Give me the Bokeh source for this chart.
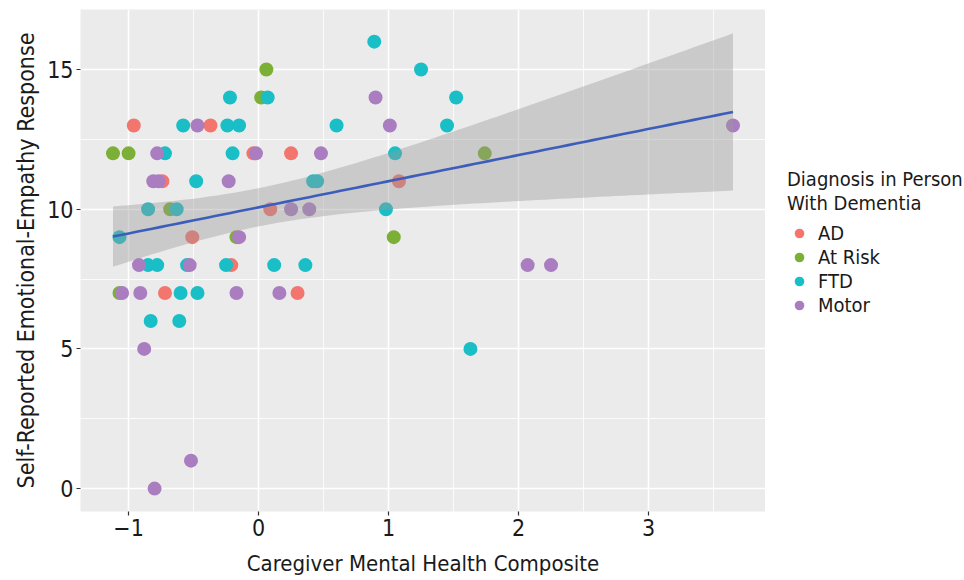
import numpy as np
from bokeh.plotting import figure
from bokeh.layouts import row
from bokeh.models import (ColumnDataSource, FixedTicker, Legend, LegendItem, Range1d)
from bokeh.embed import file_html
from bokeh.resources import INLINE

# ---- data ----
ad_x = [-0.96, -0.37, -0.04, 0.25, -0.74, 1.08, 0.09, -0.51, -0.21, -0.72, 0.30]
ad_y = [13, 13, 12, 12, 11, 11, 10, 9, 8, 7, 7]

risk_x = [-1.12, -1.00, 0.06, 0.02, 1.74, -0.68, -0.17, 1.04, -1.07]
risk_y = [12, 12, 15, 14, 12, 10, 9, 9, 7]

ftd_x = [0.89, 1.25, -0.22, 0.07, 1.52, -0.58, -0.24, -0.15, 0.60, 1.45,
         -0.72, -0.20, 1.05, -0.48, 0.42, 0.45, -0.85, -0.63, 0.98, -1.07,
         -0.85, -0.78, -0.55, -0.25, 0.12, 0.36, -0.60, -0.47, -0.83, -0.61, 1.63]
ftd_y = [16, 15, 14, 14, 14, 13, 13, 13, 13, 13,
         12, 12, 12, 11, 11, 11, 10, 10, 10, 9,
         8, 8, 8, 8, 8, 8, 7, 7, 6, 6, 5]

motor_x = [0.90, -0.47, 1.01, 3.65, -0.78, -0.02, 0.48, -0.81, -0.77, -0.23,
           0.25, 0.39, -0.15, -0.92, -0.53, 2.07, 2.25, -1.05, -0.91, -0.17,
           0.16, -0.88, -0.52, -0.80]
motor_y = [14, 13, 13, 13, 12, 12, 12, 11, 11, 11,
           10, 10, 9, 8, 8, 8, 8, 7, 7, 7,
           7, 5, 1, 0]

groups = ["AD", "At Risk", "FTD", "Motor"]
colors = ["#F2766D", "#7CAF35", "#19BEC6", "#AA7DC0"]
xs_all = [ad_x, risk_x, ftd_x, motor_x]
ys_all = [ad_y, risk_y, ftd_y, motor_y]

x_ticks = [-1, 0, 1, 2, 3]
x_tick_labels = ["\u22121", "0", "1", "2", "3"]
y_ticks = [0, 5, 10, 15]
legend_title = "Diagnosis in Person\nWith Dementia"

FONT = "'DejaVu Sans Condensed', 'Liberation Sans Narrow', sans-serif"
TXT = "#1a1a1a"
H = 580

p = figure(width=765, height=H, output_backend="svg", toolbar_location=None,
           x_range=Range1d(-1.37, 3.90), y_range=Range1d(-0.82, 17.15),
           min_border_left=80, min_border_right=0, min_border_top=9,
           min_border_bottom=69, background_fill_color="#EBEBEB",
           border_fill_color="white", outline_line_color=None)

# grid
p.xaxis.ticker = FixedTicker(ticks=x_ticks, minor_ticks=[-0.5, 0.5, 1.5, 2.5, 3.5])
p.yaxis.ticker = FixedTicker(ticks=y_ticks, minor_ticks=[2.5, 7.5, 12.5])
p.xaxis.major_label_overrides = {t: l for t, l in zip(x_ticks, x_tick_labels)}
for g in (p.xgrid, p.ygrid):
    g.grid_line_color = "white"
    g.grid_line_width = 1.6
    g.minor_grid_line_color = "white"
    g.minor_grid_line_width = 0.8

for ax in (p.xaxis, p.yaxis):
    ax.axis_line_color = None
    ax.major_tick_line_color = "#333333"
    ax.major_tick_line_width = 1.2
    ax.major_tick_out = 4
    ax.major_tick_in = 0
    ax.minor_tick_line_color = None
    ax.major_label_text_font = FONT
    ax.major_label_text_font_size = "23px"
    ax.major_label_text_color = TXT
    ax.axis_label_text_font = FONT
    ax.axis_label_text_font_style = "normal"
    ax.axis_label_text_color = TXT
p.xaxis.axis_label_text_font_size = "22px"
p.yaxis.axis_label_text_font_size = "23px"

p.xaxis.axis_label = "Caregiver Mental Health Composite"
p.yaxis.axis_label = "Self-Reported Emotional-Empathy Response"
p.xaxis.major_label_standoff = 3
p.yaxis.major_label_standoff = 3
p.xaxis.axis_label_standoff = 12
p.yaxis.axis_label_standoff = 5

# points
for gname, col, xs, ys in zip(groups, colors, xs_all, ys_all):
    src = ColumnDataSource(dict(x=xs, y=ys))
    p.scatter("x", "y", source=src, size=14, fill_color=col, line_color=None)

# linear fit with 95% confidence band (geom_smooth(method="lm"))
all_x = np.concatenate([np.array(v, float) for v in xs_all])
all_y = np.concatenate([np.array(v, float) for v in ys_all])
n = len(all_x)
b1, b0 = np.polyfit(all_x, all_y, 1)
resid = all_y - (b0 + b1 * all_x)
s = np.sqrt(np.sum(resid ** 2) / (n - 2))
xm = all_x.mean()
sxx = np.sum((all_x - xm) ** 2)
grid_x = np.linspace(all_x.min(), all_x.max(), 80)
fit = b0 + b1 * grid_x
se = s * np.sqrt(1.0 / n + (grid_x - xm) ** 2 / sxx)
tval = 1.993
upper = fit + tval * se
lower = fit - tval * se

p.varea(x=grid_x, y1=lower, y2=upper, fill_color="#999999", fill_alpha=0.4)
p.line(grid_x, fit, line_color="#3D5DBB", line_width=2.6)

# legend panel (separate, axis-less figure to the right)
LW = 199
q = figure(width=LW, height=H, output_backend="svg", toolbar_location=None,
           x_range=Range1d(0, 1), y_range=Range1d(0, 1),
           x_axis_location=None, y_axis_location=None,
           min_border=0, outline_line_color=None,
           background_fill_color="white", border_fill_color="white")
q.grid.visible = False

nan = float("nan")
key_renderers = []
for gname, col in zip(groups, colors):
    key_renderers.append(q.scatter(x=[nan], y=[nan], size=14, fill_color=col,
                                   line_color=None))

items = [LegendItem(label=g, renderers=[r]) for g, r in zip(groups, key_renderers)]
legend = Legend(items=items, location=(22, 194), orientation="vertical",
                title=legend_title, title_text_font=FONT,
                title_text_font_size="20px", title_text_font_style="normal",
                title_text_color=TXT, title_text_line_height=1.55, title_standoff=6,
                label_text_font=FONT, label_text_font_size="20px",
                label_text_color=TXT, glyph_width=24, glyph_height=24,
                label_height=18, spacing=-1, label_standoff=7, padding=0, margin=0,
                border_line_color=None, background_fill_alpha=0)
q.add_layout(legend, "center")

layout = row(p, q, spacing=0)

with open("out.html", "w") as f:
    f.write(file_html(layout, INLINE))
